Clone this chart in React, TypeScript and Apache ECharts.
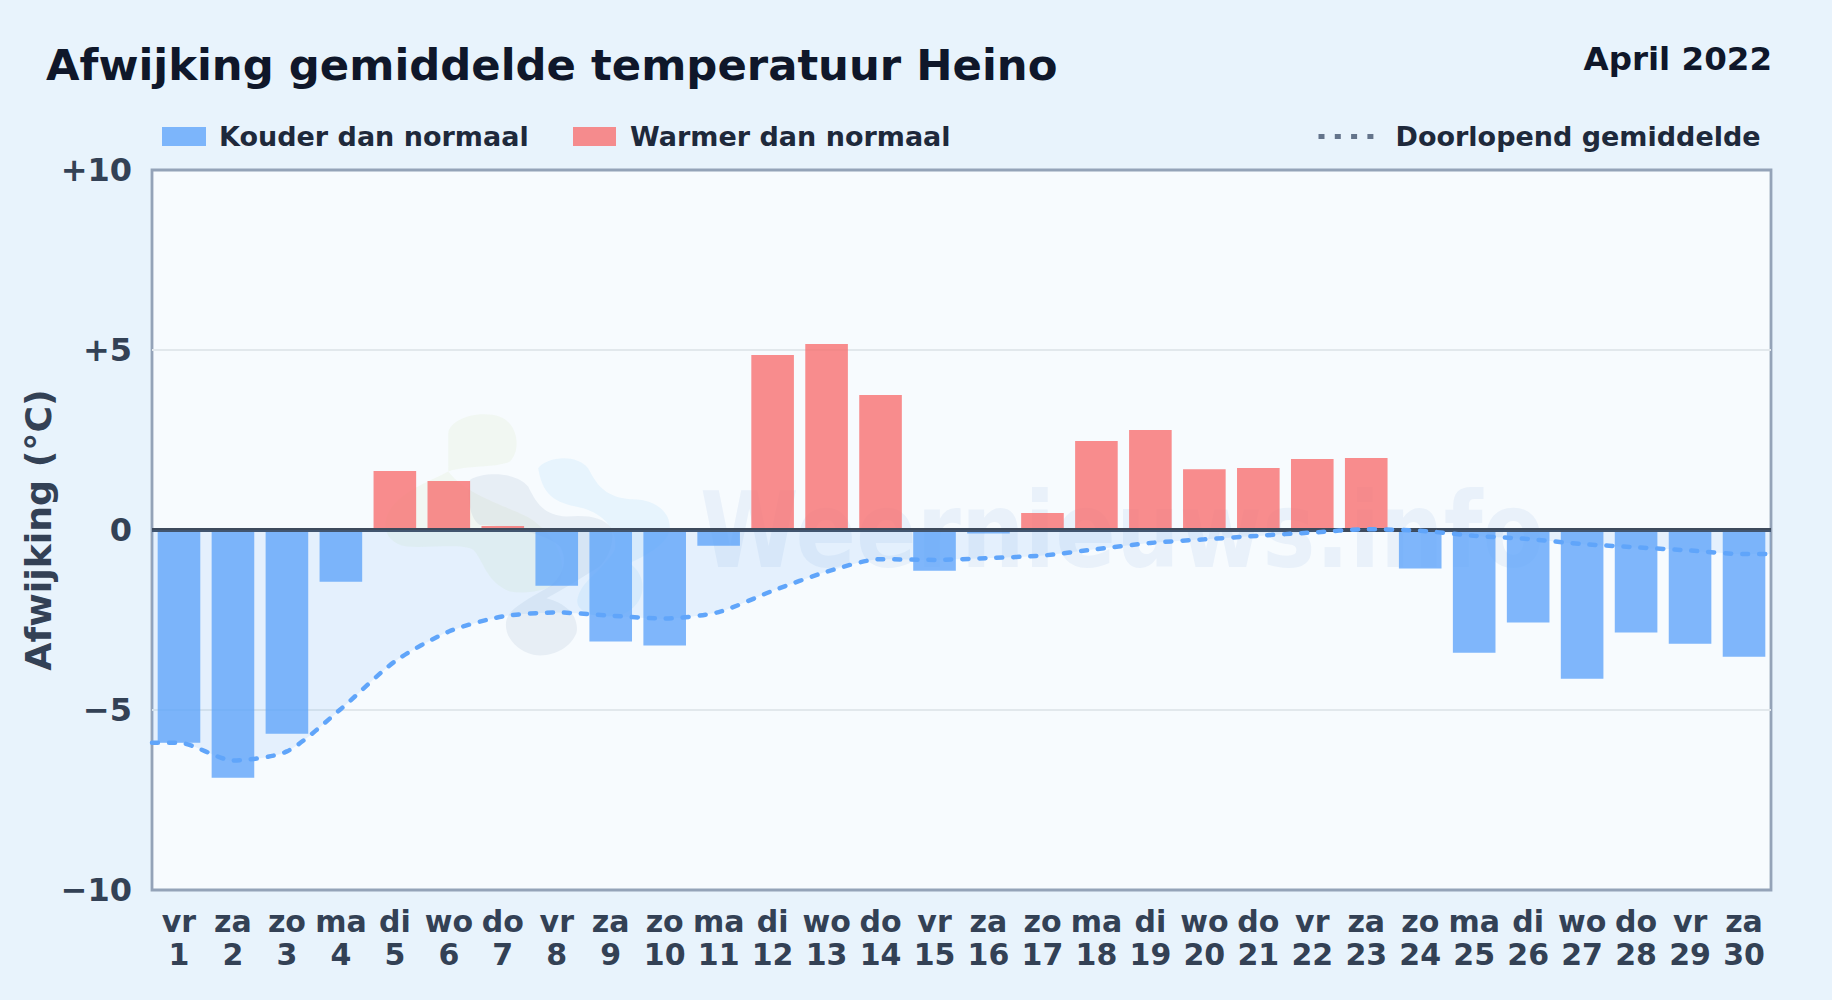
import React, { useEffect, useRef } from "react";
import * as echarts from "echarts";

const weekdays = ["vr","za","zo","ma","di","wo","do","vr","za","zo","ma","di","wo","do","vr","za","zo","ma","di","wo","do","vr","za","zo","ma","di","wo","do","vr","za"];
const dayNumbers = ["1","2","3","4","5","6","7","8","9","10","11","12","13","14","15","16","17","18","19","20","21","22","23","24","25","26","27","28","29","30"];
const colderValues = [-5.91,-6.88,-5.66,-1.44,null,null,null,-1.55,-3.10,-3.21,-0.44,null,null,null,-1.13,-0.10,null,null,null,null,null,null,null,-1.07,-3.41,-2.57,-4.13,-2.85,-3.16,-3.52];
const warmerValues = [null,null,null,null,1.64,1.36,0.11,null,null,null,null,4.86,5.17,3.75,null,null,0.47,2.47,2.78,1.69,1.72,1.97,2.00,null,null,null,null,null,null,null];
const runningMean = [-5.91,-6.40,-6.15,-4.97,-3.65,-2.82,-2.40,-2.29,-2.38,-2.46,-2.28,-1.69,-1.16,-0.81,-0.83,-0.78,-0.71,-0.53,-0.36,-0.26,-0.16,-0.07,0.02,-0.02,-0.16,-0.25,-0.39,-0.48,-0.57,-0.67];
const yTicks: Record<string, string> = { "10": "+10", "5": "+5", "0": "0", "-5": "\u22125", "-10": "\u221210" };

const FONT = "DejaVu Sans";
const categories = weekdays.map((d, i) => `${d}\n${dayNumbers[i]}`);
const linePoints = [
  [0, runningMean[0]],
  ...runningMean.map((v, i) => [i + 0.5, v]),
  [runningMean.length, runningMean[runningMean.length - 1]],
];

const GREEN = "M235 100C240 55 330 30 390 50C445 70 455 150 420 185C380 205 290 195 235 215C190 240 100 270 60 330C30 380 50 430 110 440C180 445 280 430 310 450C340 480 350 550 420 575C470 585 540 570 570 545C590 500 570 420 500 370C460 330 300 300 235 215Z";
const GRAY = "M300 240C340 215 440 215 475 260C500 310 520 345 590 350C650 345 700 350 725 385C735 420 720 470 690 500C640 530 580 570 530 595C590 610 630 650 620 700C600 750 540 775 490 765C430 750 400 700 410 660C420 625 470 600 540 560C590 520 590 470 570 440C530 400 400 375 330 375C300 360 290 290 300 240Z";
const SKY = "M505 205C530 170 620 160 655 205C680 250 700 290 780 298C860 295 905 340 900 390C890 440 820 470 780 490C850 540 820 640 730 650C660 655 610 630 625 590C640 540 700 510 735 450C745 400 710 345 640 325C570 310 520 300 505 205Z";
echarts.graphic.registerShape("blobGreen", echarts.graphic.extendPath(GREEN, {}) as any);
echarts.graphic.registerShape("blobGray", echarts.graphic.extendPath(GRAY, {}) as any);
echarts.graphic.registerShape("blobSky", echarts.graphic.extendPath(SKY, {}) as any);

export default function App() {
  const ref = useRef<HTMLDivElement>(null);
  useEffect(() => {
    document.body.style.margin = "0";
    const chart = echarts.init(ref.current!, undefined, { renderer: "svg" });
    const legendText = { color: "#1e293b", fontFamily: FONT, fontWeight: "bold", fontSize: 27 };
    chart.setOption({
      animation: false,
      backgroundColor: "#e8f3fc",
      textStyle: { fontFamily: FONT },
      title: [
        { text: "Afwijking gemiddelde temperatuur Heino", left: 46, top: 43.5, padding: 0, textStyle: { color: "#0f172a", fontFamily: FONT, fontWeight: "bold", fontSize: 43.35 } },
        { text: "April 2022", right: 60, top: 42, padding: 0, textStyle: { color: "#0f172a", fontFamily: FONT, fontWeight: "bold", fontSize: 32.5 } },
      ],
      legend: [
        { data: ["Kouder dan normaal"], left: 162, top: 123, padding: 0, icon: "rect", itemWidth: 44, itemHeight: 19, textStyle: { ...legendText, padding: [0, 0, 0, 8] } },
        { data: ["Warmer dan normaal"], left: 573, top: 123, padding: 0, icon: "rect", itemWidth: 43, itemHeight: 19, textStyle: { ...legendText, padding: [0, 0, 0, 9] } },
        { data: ["Doorlopend gemiddelde"], left: 1316, top: 123, padding: 0, itemWidth: 58, itemHeight: 19,
          lineStyle: { color: "#64748b", width: 5, type: [6, 10.3], cap: "butt" },
          itemStyle: { color: "transparent", opacity: 0, borderWidth: 0 },
          textStyle: { ...legendText, padding: [0, 0, 0, 14] } },
      ],
      grid: { left: 152, right: 61, top: 170, bottom: 110, containLabel: false, show: true, backgroundColor: "#f7fbfe", borderColor: "#94a3b8", borderWidth: 2.8 },
      xAxis: [
        {
          type: "category",
          data: categories,
          boundaryGap: true,
          axisLine: { show: false, onZero: false },
          axisTick: { show: false },
          splitLine: { show: false },
          axisLabel: { interval: 0, color: "#334155", fontFamily: FONT, fontWeight: "bold", fontSize: 30, lineHeight: 33, margin: 15, hideOverlap: false },
        },
        { type: "value", min: 0, max: 30, show: false, splitLine: { show: false } },
      ],
      yAxis: {
        type: "value",
        min: -10,
        max: 10,
        interval: 5,
        name: "Afwijking (\u00b0C)",
        nameLocation: "middle",
        nameGap: 96,
        nameMoveOverlap: false,
        nameTextStyle: { color: "#334155", fontFamily: FONT, fontWeight: "bold", fontSize: 36.3 },
        axisLine: { show: false },
        axisTick: { show: false },
        axisLabel: { color: "#334155", fontFamily: FONT, fontWeight: "bold", fontSize: 32, margin: 20, formatter: (v: number) => yTicks[String(v)] },
        splitLine: { show: true, showMinLine: false, showMaxLine: false, lineStyle: { color: "#e2e8ec", width: 2 } },
      },
      graphic: {
        elements: [
          { type: "blobGreen", x: 370, y: 400, scaleX: 1 / 3, scaleY: 1 / 3, z: 1, silent: true, style: { fill: "rgba(190,215,120,0.09)" } },
          { type: "blobSky", x: 370, y: 400, scaleX: 1 / 3, scaleY: 1 / 3, z: 1, silent: true, style: { fill: "rgba(80,175,245,0.09)" } },
          { type: "blobGray", x: 370, y: 400, scaleX: 1 / 3, scaleY: 1 / 3, z: 1, silent: true, style: { fill: "rgba(100,125,170,0.10)" } },
          { type: "text", x: 700, y: 478, scaleX: 0.852, z: 1, silent: true, style: { text: "Weernieuws.info", fontFamily: FONT, fontWeight: "bold", fontSize: 105, fill: "rgba(80,130,200,0.08)" } },
        ],
      },
      series: [
        {
          name: "Kouder dan normaal",
          type: "bar",
          stack: "dev",
          z: 3,
          barWidth: 42.6,
          data: colderValues,
          itemStyle: { color: "#60a5fa", opacity: 0.8 },
          markLine: {
            silent: true,
            symbol: "none",
            label: { show: false },
            z: 4,
            lineStyle: { color: "#3d4a5c", width: 3.8, type: "solid" },
            data: [{ yAxis: 0 }],
          },
        },
        {
          name: "Warmer dan normaal",
          type: "bar",
          stack: "dev",
          z: 3,
          barWidth: 42.6,
          data: warmerValues,
          itemStyle: { color: "#f87171", opacity: 0.8 },
        },
        {
          name: "Doorlopend gemiddelde",
          type: "line",
          xAxisIndex: 1,
          z: 5,
          data: linePoints,
          smooth: 0.25,
          symbol: "none",
          showSymbol: false,
          lineStyle: { color: "#60a5fa", width: 4.5, type: [6, 11], cap: "round" },
          areaStyle: { color: "rgba(96,165,250,0.18)", origin: 0 },
        },
      ],
    });
    return () => chart.dispose();
  }, []);
  return <div ref={ref} style={{ position: "absolute", left: 0, top: 0, width: 1832, height: 1000 }} />;
}
